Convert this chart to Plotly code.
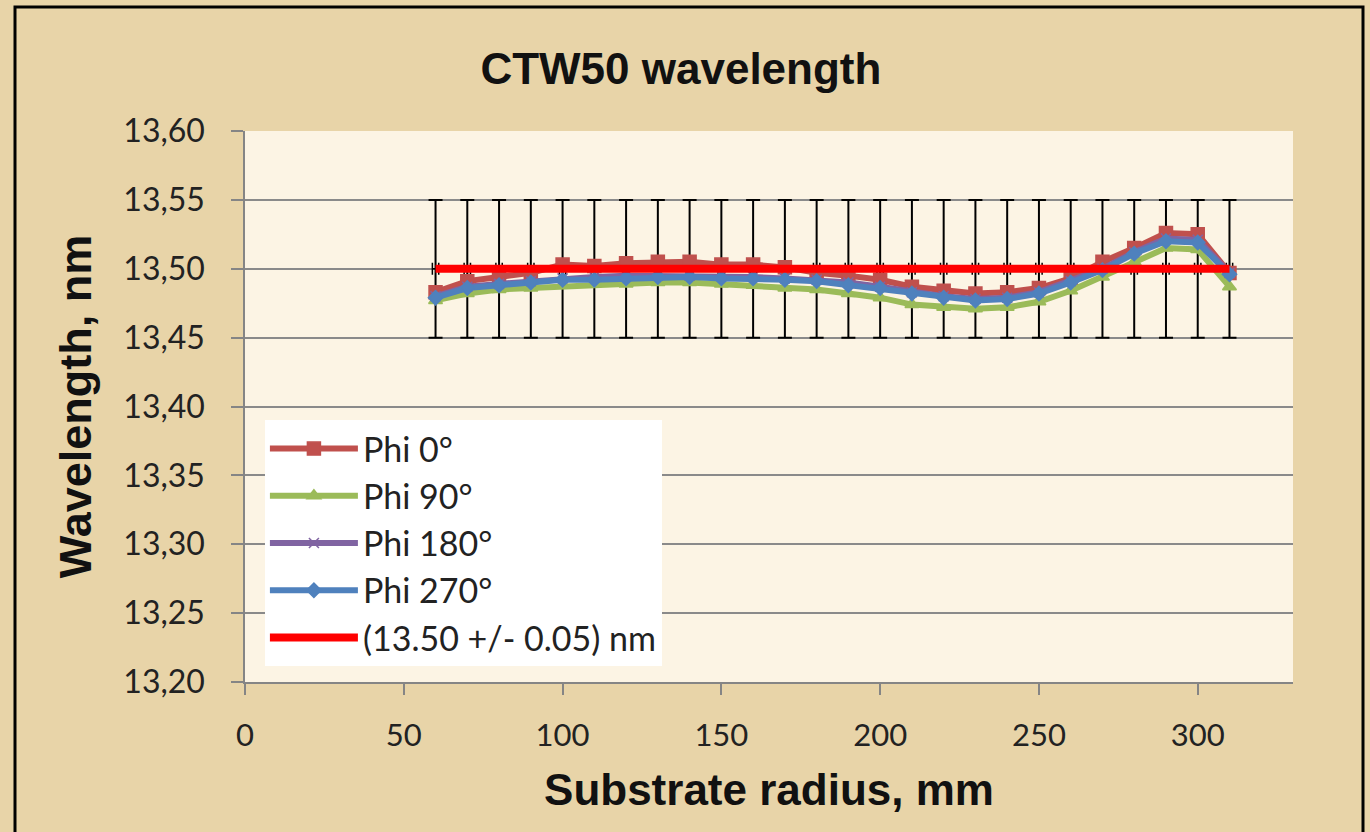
import plotly.graph_objects as go

radius = [60, 70, 80, 90, 100, 110, 120, 130, 140, 150, 160, 170, 180,
          190, 200, 210, 220, 230, 240, 250, 260, 270, 280, 290, 300, 310]

phi_0 = [13.483, 13.491, 13.494, 13.497, 13.503, 13.502, 13.504, 13.505, 13.505,
         13.503, 13.503, 13.501, 13.497, 13.495, 13.492, 13.487, 13.484, 13.482,
         13.483, 13.486, 13.493, 13.505, 13.515, 13.526, 13.525, 13.497]
phi_90 = [13.477, 13.482, 13.485, 13.486, 13.488, 13.489, 13.489, 13.490, 13.490,
          13.489, 13.488, 13.486, 13.485, 13.482, 13.479, 13.474, 13.472, 13.471,
          13.472, 13.476, 13.484, 13.494, 13.505, 13.515, 13.514, 13.487]
phi_180 = [13.480, 13.487, 13.489, 13.491, 13.493, 13.494, 13.495, 13.495, 13.495,
           13.495, 13.494, 13.493, 13.492, 13.490, 13.487, 13.483, 13.480, 13.478,
           13.479, 13.483, 13.491, 13.500, 13.512, 13.522, 13.521, 13.497]
phi_270 = [13.479, 13.486, 13.488, 13.490, 13.492, 13.492, 13.493, 13.494, 13.494,
           13.493, 13.493, 13.492, 13.491, 13.488, 13.486, 13.482, 13.479, 13.477,
           13.478, 13.482, 13.490, 13.499, 13.511, 13.520, 13.519, 13.496]
target = [13.50] * len(radius)
target_tol = 0.05
radius_tol = 1.0

series = [
    ("Phi 0°", phi_0, "#C0504D", "square", 13),
    ("Phi 90°", phi_90, "#9BBB59", "triangle-up", 12),
    ("Phi 180°", phi_180, "#8064A2", "x-thin-open", 10),
    ("Phi 270°", phi_270, "#4F81BD", "diamond", 11),
]

fig = go.Figure()

# error bars of the target band (drawn beneath the measured series)
fig.add_trace(go.Scatter(
    x=radius, y=target, mode="markers", marker=dict(size=1, opacity=0),
    showlegend=False, hoverinfo="skip",
    error_y=dict(type="constant", value=target_tol, color="black", thickness=2, width=7),
    error_x=dict(type="constant", value=radius_tol, color="black", thickness=1.5, width=6),
))

for name, vals, col, sym, sz in series:
    fig.add_trace(go.Scatter(
        x=radius, y=vals, name=name, mode="lines+markers",
        line=dict(color=col, width=6),
        marker=dict(symbol=sym, size=sz, color=col, line=dict(color=col, width=1.5)),
    ))

fig.add_trace(go.Scatter(
    x=radius, y=target, name="(13.50 +/- 0.05) nm", mode="lines",
    line=dict(color="#FF0000", width=8),
))

fig.update_layout(
    width=1370, height=832,
    margin=dict(l=245, r=77, t=131, b=150),
    paper_bgcolor="#E8D4A8",
    plot_bgcolor="#FCF4E4",
    separators=",.",
    title=dict(text="<b>CTW50 wavelength</b>", x=0.497, xanchor="center",
               y=1 - 69 / 832, yanchor="middle",
               font=dict(family="Liberation Sans, Arial", size=44, color="#111111")),
    font=dict(family="Lato, Open Sans", color="#222222"),
    showlegend=True,
    legend=dict(x=0.019, y=0.4755, xanchor="left", yanchor="top",
                bgcolor="white", borderwidth=0,
                font=dict(family="Lato", size=34, color="#222222"),
                itemwidth=88, tracegroupgap=0),
    xaxis=dict(range=[0, 330], dtick=50, tick0=0, showgrid=False,
               showline=True, linecolor="#858585", linewidth=1.5,
               ticks="outside", ticklen=11, tickcolor="#858585", tickwidth=1.5,
               ticklabelstandoff=14,
               tickfont=dict(family="Lato", size=31, color="#222222"),
               zeroline=False,
               title=dict(text="<b>Substrate radius, mm</b>", standoff=22,
                          font=dict(family="Liberation Sans, Arial", size=44, color="#111111"))),
    yaxis=dict(range=[13.20, 13.60], dtick=0.05, tick0=13.20, tickformat=".2f",
               showgrid=True, gridcolor="#8A8A8A", gridwidth=1.5,
               showline=True, linecolor="#858585", linewidth=1.5,
               ticks="outside", ticklen=12, tickcolor="#858585", tickwidth=1.5,
               ticklabelstandoff=20,
               tickfont=dict(family="Lato", size=32, color="#222222"),
               zeroline=False,
               title=dict(text="<b>Wavelength, nm</b>", standoff=18,
                          font=dict(family="Liberation Sans, Arial", size=45, color="#111111"))),
    shapes=[dict(type="rect", xref="paper", yref="paper",
                 x0=(15 - 245) / 1048, x1=(1363 - 245) / 1048,
                 y0=-0.4, y1=(682 - 7) / 551,
                 line=dict(color="black", width=3), fillcolor="rgba(0,0,0,0)",
                 layer="above")],
)

fig.write_html("out.html")
